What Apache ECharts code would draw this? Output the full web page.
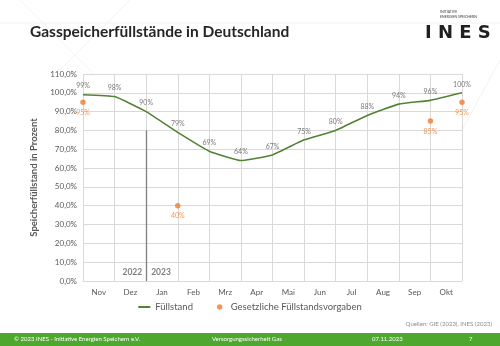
<!DOCTYPE html>
<html>
<head>
<meta charset="utf-8">
<script src="https://cdn.jsdelivr.net/npm/echarts@6/dist/echarts.min.js"></script>
<style>
  html, body { margin: 0; padding: 0; background: #ffffff; }
  #chart { width: 500px; height: 346px; }
</style>
</head>
<body>
<div id="chart"></div>
<script>
// Month names shown between the gridlines (Nov 2022 .. Okt 2023)
const months = ['Nov', 'Dez', 'Jan', 'Feb', 'Mrz', 'Apr', 'Mai', 'Jun', 'Jul', 'Aug', 'Sep', 'Okt'];
// Storage level at the first day of each month, 1 Nov 2022 .. 1 Nov 2023 (percent)
const fuellstand = [99, 98, 90, 79, 69, 64, 67, 75, 80, 88, 94, 96, 100];
// Legal filling targets: [month boundary index, percent]
const vorgaben = [[0, 95], [3, 40], [11, 85], [12, 95]];
// Year change marker (boundary index, height in percent) and its labels
const yearBoundary = 2;
const yearLineTop = 80;
const yearLabels = ['2022', '2023'];
const yTicks = { min: 0, max: 110, step: 10 };

const font = 'Lato, "Open Sans", sans-serif';
const grey = '#595959';
const green = '#548235';
const orange = '#ED7D31';

const chart = echarts.init(document.getElementById('chart'), null, { renderer: 'canvas' });

const pct = v => v.toFixed(1).replace('.', ',') + '%';
const levelPoints = fuellstand.map((v, i) => [i, v]);

chart.setOption({
  backgroundColor: '#ffffff',
  animation: false,
  textStyle: { fontFamily: font },
  title: {
    text: 'Gasspeicherfüllstände in Deutschland',
    left: 25, top: 19,
    textStyle: { fontFamily: font, fontSize: 15.5, fontWeight: 'bold', color: '#262626' }
  },
  legend: {
    bottom: 29, left: 'center',
    itemGap: 24,
    textStyle: { fontFamily: font, fontSize: 9.5, color: grey },
    data: [
      { name: 'Füllstand', icon: 'path://M0,0H12V2H0Z', itemStyle: { color: green } },
      { name: 'Gesetzliche Füllstandsvorgaben', icon: 'circle', itemStyle: { color: orange } }
    ],
    itemWidth: 12, itemHeight: 5.5
  },
  grid: { left: 83, right: 38, top: 74, bottom: 65, containLabel: false },
  xAxis: [
    {
      type: 'value', min: 0, max: months.length, interval: 1,
      axisLabel: { show: false }, axisTick: { show: false },
      axisLine: { show: false },
      splitLine: { show: true, lineStyle: { color: '#d9d9d9', width: 1 } }
    },
    {
      type: 'category', data: months, boundaryGap: true, position: 'bottom',
      axisTick: { show: false },
      axisLine: { show: true, lineStyle: { color: '#d9d9d9' } },
      axisLabel: { color: grey, fontSize: 8, margin: 7, fontFamily: font },
      splitLine: { show: false }
    }
  ],
  yAxis: {
    type: 'value', min: yTicks.min, max: yTicks.max, interval: yTicks.step,
    name: 'Speicherfüllstand in Prozent',
    nameLocation: 'middle', nameGap: 37, nameRotate: 90,
    nameTextStyle: { fontFamily: font, fontSize: 9.5, fontWeight: 'bold', color: grey },
    axisLine: { show: false }, axisTick: { show: false },
    axisLabel: { color: grey, fontSize: 8, margin: 6, formatter: pct, fontFamily: font },
    splitLine: { lineStyle: { color: '#d9d9d9', width: 1 } }
  },
  series: [
    {
      name: 'Füllstand', type: 'line', xAxisIndex: 0,
      data: levelPoints,
      smooth: 0.12,
      symbol: 'none',
      lineStyle: { color: green, width: 1.6 },
      itemStyle: { color: green },
      markLine: {
        silent: true, symbol: 'none',
        lineStyle: { color: '#7f7f7f', width: 1.3, type: 'solid' },
        label: { show: false },
        data: [[{ coord: [yearBoundary, 0] }, { coord: [yearBoundary, yearLineTop] }]]
      },
      markPoint: {
        silent: true, symbol: 'circle', symbolSize: 0,
        label: { show: true, color: '#7f7f7f', fontSize: 8.5, fontWeight: 'bold', fontFamily: font },
        data: [
          { coord: [yearBoundary, 4.5], value: yearLabels[0], label: { position: 'left', distance: 4, formatter: yearLabels[0] } },
          { coord: [yearBoundary, 4.5], value: yearLabels[1], label: { position: 'right', distance: 5, formatter: yearLabels[1] } }
        ]
      },
      z: 3
    },
    {
      // value labels of the storage level line
      name: 'Füllstand Werte', type: 'scatter', xAxisIndex: 0,
      data: levelPoints,
      symbol: 'circle', symbolSize: 0,
      silent: true,
      label: {
        show: true, position: 'top', distance: 5,
        color: grey, fontSize: 7, fontFamily: font,
        formatter: p => p.value[1] + '%'
      },
      z: 3
    },
    {
      name: 'Gesetzliche Füllstandsvorgaben', type: 'scatter', xAxisIndex: 0,
      data: vorgaben,
      symbol: 'circle', symbolSize: 5.5,
      itemStyle: { color: orange },
      label: {
        show: true, position: 'bottom', distance: 4,
        color: orange, fontSize: 7, fontFamily: font,
        formatter: p => p.value[1] + '%'
      },
      z: 4
    }
  ],
  graphic: [
    // faint slide background lines
    { type: 'line', shape: { x1: 0, y1: 23, x2: 500, y2: 23 }, style: { stroke: '#f2f2f2', lineWidth: 1 }, silent: true, z: -10 },
    { type: 'polyline', shape: { points: [[20, 0], [95, 75]] }, style: { stroke: '#f4f4f4', lineWidth: 1 }, silent: true, z: -10 },
    { type: 'polyline', shape: { points: [[130, 0], [60, 70]] }, style: { stroke: '#f4f4f4', lineWidth: 1 }, silent: true, z: -10 },
    { type: 'polyline', shape: { points: [[500, 60], [462, 130]] }, style: { stroke: '#f2f2f2', lineWidth: 1 }, silent: true, z: -10 },
    // INES logo
    {
      type: 'text', left: 440, top: 9,
      style: { text: 'INITIATIVE\nENERGIEN SPEICHERN', fill: '#404040', font: '3.5px ' + font, lineHeight: 5 }
    },
    {
      type: 'text', left: 425, top: 24,
      style: { text: 'I N E S', fill: '#1f1f1f', font: 'bold 18px "DejaVu Sans"' }
    },
    // source note
    {
      type: 'text', right: 8, top: 321,
      style: { text: 'Quellen: GIE (2023), INES (2023)', fill: '#8c8c8c', font: '6px ' + font }
    },
    // footer band
    {
      type: 'rect', left: 0, top: 333, shape: { width: 500, height: 13 },
      style: { fill: '#4ea72e' }, silent: true
    },
    { type: 'text', left: 14, top: 336, style: { text: '© 2023 INES - Initiative Energien Speichern e.V.', fill: '#ffffff', font: '6px ' + font } },
    { type: 'text', left: 212, top: 336, style: { text: 'Versorgungssicherheit Gas', fill: '#ffffff', font: '6px ' + font } },
    { type: 'text', left: 372, top: 336, style: { text: '07.11.2023', fill: '#ffffff', font: '6px ' + font } },
    { type: 'text', left: 469, top: 336, style: { text: '7', fill: '#ffffff', font: '6px ' + font } }
  ]
});
</script>
</body>
</html>
